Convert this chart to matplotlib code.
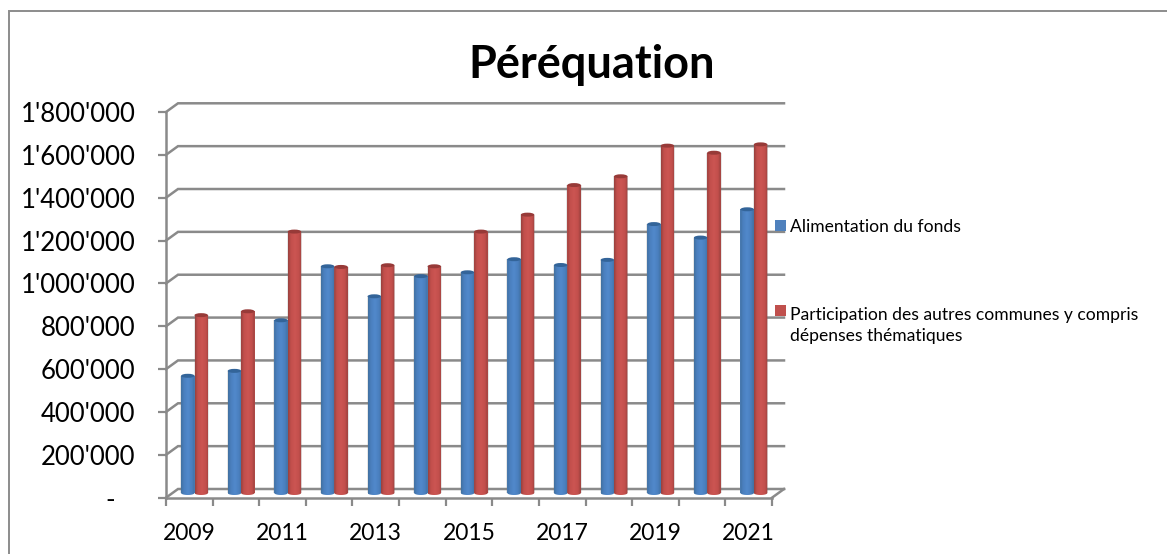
import numpy as np
import matplotlib
matplotlib.use("Agg")
import matplotlib.pyplot as plt
from matplotlib.patches import Ellipse, PathPatch, Patch
from matplotlib.path import Path

years = list(range(2009, 2022))
alimentation = [547000, 570000, 806000, 1058000, 918000, 1012000, 1030000,
                1091000, 1064000, 1088000, 1255000, 1192000, 1324000]
participation = [830000, 848000, 1220000, 1055000, 1063000, 1058000, 1220000,
                 1299000, 1437000, 1478000, 1621000, 1588000, 1627000]
series_names = ["Alimentation du fonds",
                "Participation des autres communes y compris\ndépenses thématiques"]
y_values = [0, 200000, 400000, 600000, 800000, 1000000, 1200000, 1400000, 1600000, 1800000]
y_labels = ["-   ", "200'000", "400'000", "600'000", "800'000", "1'000'000",
            "1'200'000", "1'400'000", "1'600'000", "1'800'000"]
title = "Péréquation"

plt.rcParams['font.family'] = ['Lato', 'DejaVu Sans']
W, H = 1167, 554
fig = plt.figure(figsize=(W / 100, H / 100), dpi=100, facecolor='white')
L, R, B, T = 166, 772, 497.7, 112
ax = fig.add_axes([L / W, 1 - B / H, (R - L) / W, (B - T) / H])
ax.set_xlim(-0.5, 12.5)
ax.set_ylim(0, 1800000)
ax.patch.set_visible(False)

GRID = '#8a8a8a'
px_x = 13 / (R - L)            # data units per pixel, x
px_y = 1800000 / (B - T)       # data units per pixel, y
depth_x, depth_y = 12 * px_x, 8.7 * px_y

# walls / floor
for v in y_values:
    ax.plot([-0.5, -0.5 + depth_x, 12.5 + depth_x], [v, v + depth_y, v + depth_y],
            color=GRID, lw=1.8, clip_on=False, zorder=1, solid_joinstyle='miter')
ax.plot([12.5, 12.5 + depth_x], [0, depth_y], color=GRID, lw=1.8, clip_on=False, zorder=1)

for s in ('top', 'right'):
    ax.spines[s].set_visible(False)
for s in ('left', 'bottom'):
    ax.spines[s].set_color(GRID)
    ax.spines[s].set_linewidth(1.8)
    ax.spines[s].set_zorder(1.5)

ax.set_yticks(y_values, y_labels)
ax.set_xticks(range(13), [str(y) if i % 2 == 0 else '' for i, y in enumerate(years)])
ax.set_xticks(np.arange(-0.5, 13), minor=True)
ax.tick_params(axis='x', which='major', length=0, pad=18, labelsize=16.5, labelcolor='black')
ax.tick_params(axis='x', which='minor', length=6, width=1.6, color=GRID)
ax.tick_params(axis='y', length=6, width=1.6, color=GRID, pad=16, labelsize=18.5, labelcolor='black')

# bars
bw = 13.4 * px_x
base = 4.7 * px_y
shift = 5.2 * px_x
eh = 4.0 * px_y


def shade(edge, mid, light):
    pos = [0, .2, .5, .8, 1]
    cols = [edge, mid, light, mid, edge]
    t = np.linspace(0, 1, 64)
    rgb = np.array([matplotlib.colors.to_rgb(c) for c in cols])
    return np.stack([np.interp(t, pos, rgb[:, i]) for i in range(3)], axis=-1)[None, :, :]


blue_grad = shade('#41709f', '#4a7fbe', '#5189cb')
red_grad = shade('#96403d', '#c24f4c', '#cc5552')
styles = [(alimentation, -bw / 2, '#4f81bd', blue_grad, '#336499', series_names[0]),
          (participation, bw / 2, '#c0504d', red_grad, '#973a38', series_names[1])]

for vals, off, col, grad, topc, name in styles:
    x = np.arange(13) + shift + off
    ax.bar(x, vals, width=1.14 * bw, bottom=base, color='#777777',
           alpha=0.18, zorder=2, clip_on=False)
    bars = ax.bar(x, vals, width=bw, bottom=base, color=col, zorder=3, clip_on=False, label=name)
    for xi, v in zip(x, vals):
        l, r = xi - bw / 2, xi + bw / 2
        t = base + v
        th = np.linspace(np.pi, 2 * np.pi, 24)
        vs = [(l, t)] + list(zip(xi + bw / 2 * np.cos(th), base + eh / 2 * np.sin(th))) + [(r, t), (l, t)]
        body = PathPatch(Path(vs), transform=ax.transData, fc='none', ec='none')
        ax.add_patch(body)
        body.set_clip_on(False)
        im = ax.imshow(grad, extent=[l, r, base - eh, t], aspect='auto', zorder=3.1,
                       interpolation='bilinear')
        im.set_clip_path(body)
        ax.add_patch(Ellipse((xi, t), bw, eh, fc=topc, ec='none', zorder=3.2, clip_on=False))

ax.set_xlim(-0.5, 12.5)
ax.set_ylim(0, 1800000)

# legend
handles = [Patch(fc='#4f81bd', ec='none'), Patch(fc='#c0504d', ec='none')]
leg = ax.legend(handles, series_names, loc='upper left',
                bbox_to_anchor=(775 / W, 1 - 218.5 / H), bbox_transform=fig.transFigure,
                frameon=False, fontsize=12.65, handlelength=0.625, handleheight=0.625,
                handletextpad=0.22, labelspacing=4.11, borderaxespad=0, borderpad=0)
for t in leg.get_texts():
    t.set_linespacing(1.42)
leg.legend_handles[1].set_y(11.5)

fig.suptitle(title, x=592 / W, y=1 - 65 / H, va='center', ha='center',
             fontsize=32.5, fontweight='bold', color='black')

# chart frame (top and left only are visible in the crop)
fig.add_artist(plt.Line2D([9 / W, 9 / W, 1], [0, 1 - 10.5 / H, 1 - 10.5 / H],
                          transform=fig.transFigure, color='#8c8c8c', lw=1.4,
                          solid_joinstyle='miter'))

fig.savefig('out.png', dpi=100, facecolor='white')
